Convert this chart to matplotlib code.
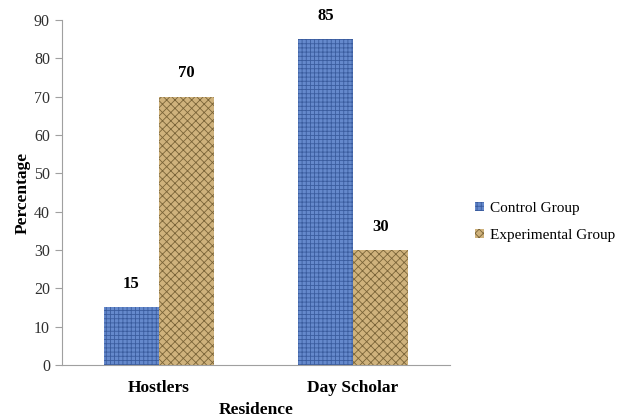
import matplotlib.pyplot as plt
import numpy as np

plt.rcParams['font.family'] = ['Liberation Serif', 'DejaVu Serif']

categories = ['Hostlers', 'Day Scholar']
control = [15, 85]
experimental = [70, 30]

fig = plt.figure(figsize=(6.3, 4.17), dpi=100)
ax = fig.add_axes([0.098, 0.125, 0.616, 0.827])

x = np.arange(len(categories))
w = 0.283
plt.rcParams['hatch.linewidth'] = 0.6

b1 = ax.bar(x - w / 2, control, w, color='#6589cc', edgecolor='#3a5c9e',
            hatch='++++', linewidth=0, label='Control Group')
b2 = ax.bar(x + w / 2, experimental, w, color='#cfb27c', edgecolor='#7a6438',
            hatch='xxxx', linewidth=0, label='Experimental Group')

for bars, vals in [(b1, control), (b2, experimental)]:
    for rect, v in zip(bars, vals):
        ax.annotate(str(v), (rect.get_x() + rect.get_width() / 2, v),
                    xytext=(0, 11), textcoords='offset points',
                    ha='center', va='bottom', fontsize=12, fontweight='bold')

ax.set_xlim(-0.5, 1.5)
ax.set_ylim(0, 90)
ax.set_yticks(range(0, 91, 10))
ax.set_xticks(x)
ax.set_xticklabels(categories, fontsize=12.5, fontweight='bold')
ax.tick_params(axis='x', length=0, pad=11)
ax.tick_params(axis='y', labelsize=11.5, length=5, color='#a0a0a0')
for lbl in ax.get_yticklabels():
    lbl.set_color('#303030')

for s in ['top', 'right']:
    ax.spines[s].set_visible(False)
ax.spines['left'].set_color('#a0a0a0')
ax.spines['bottom'].set_color('#a0a0a0')

ax.set_ylabel('Percentage', fontsize=12.5, fontweight='bold', labelpad=2)
ax.set_xlabel('Residence', fontsize=12.5, fontweight='bold', labelpad=4)

ax.legend(loc='center left', bbox_to_anchor=(1.03, 0.415), frameon=False,
          fontsize=11, handlelength=0.6, handleheight=0.6, handletextpad=0.4,
          labelspacing=0.9)

fig.savefig('out.png', dpi=100)
